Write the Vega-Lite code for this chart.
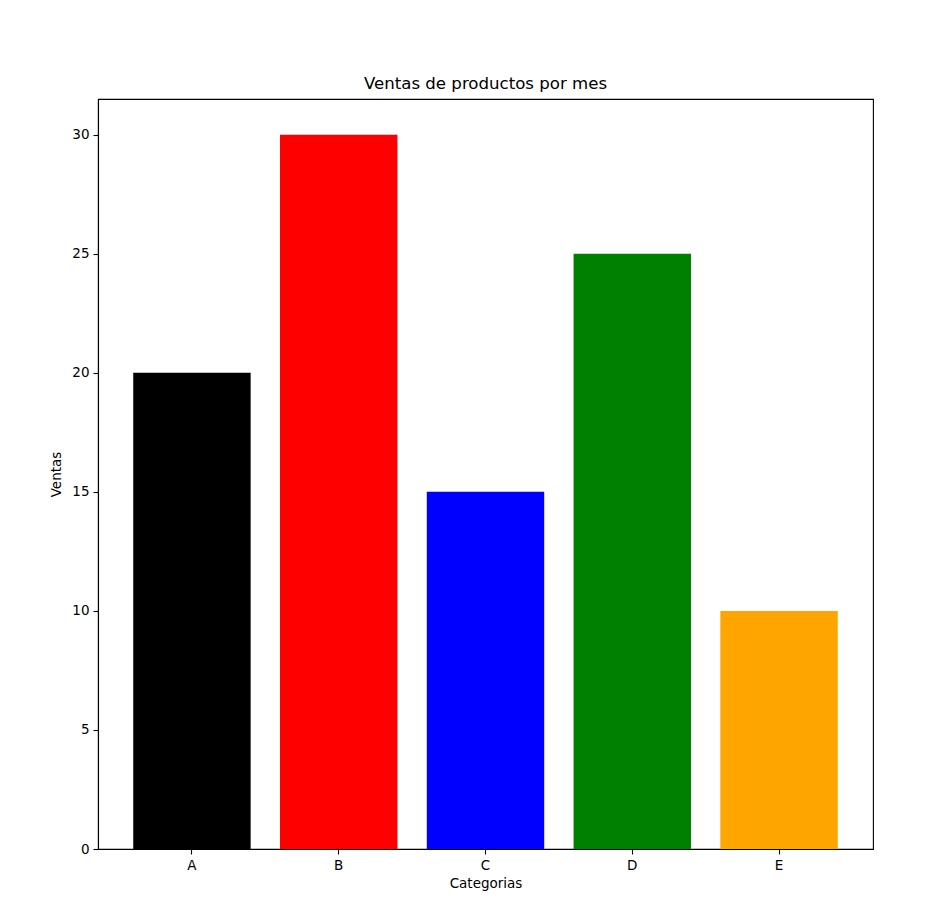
{
  "$schema": "https://vega.github.io/schema/vega-lite/v6.json",
  "width": 775,
  "height": 750,
  "autosize": {"type": "none"},
  "padding": {"left": 98, "top": 99, "right": 64, "bottom": 65},
  "background": "white",
  "title": {
    "text": "Ventas de productos por mes",
    "font": "DejaVu Sans",
    "fontSize": 16.6,
    "fontWeight": "normal",
    "color": "black",
    "offset": 6
  },
  "config": {
    "view": {"stroke": "black", "strokeWidth": 1.1},
    "axis": {
      "labelFont": "DejaVu Sans",
      "labelFontSize": 13.5,
      "labelColor": "black",
      "titleFont": "DejaVu Sans",
      "titleFontSize": 13.5,
      "titleFontWeight": "normal",
      "titleColor": "black",
      "domainColor": "black",
      "tickColor": "black",
      "tickSize": 5,
      "tickWidth": 1.1,
      "domainWidth": 1.1,
      "grid": false,
      "labelPadding": 4
    }
  },
  "data": {
    "values": [
      {"categoria": "A", "ventas": 20},
      {"categoria": "B", "ventas": 30},
      {"categoria": "C", "ventas": 15},
      {"categoria": "D", "ventas": 25},
      {"categoria": "E", "ventas": 10}
    ]
  },
  "mark": {"type": "bar"},
  "encoding": {
    "x": {
      "field": "categoria",
      "type": "nominal",
      "sort": null,
      "scale": {"paddingInner": 0.2, "paddingOuter": 0.24},
      "axis": {"title": "Categorias", "labelAngle": 0, "titlePadding": 5}
    },
    "y": {
      "field": "ventas",
      "type": "quantitative",
      "scale": {"domain": [0, 31.5], "nice": false, "zero": true},
      "axis": {"title": "Ventas", "values": [0, 5, 10, 15, 20, 25, 30], "titlePadding": 8}
    },
    "color": {
      "field": "categoria",
      "type": "nominal",
      "scale": {"domain": ["A", "B", "C", "D", "E"], "range": ["#000000", "#ff0000", "#0000ff", "#008000", "#ffa500"]},
      "legend": null
    }
  }
}
